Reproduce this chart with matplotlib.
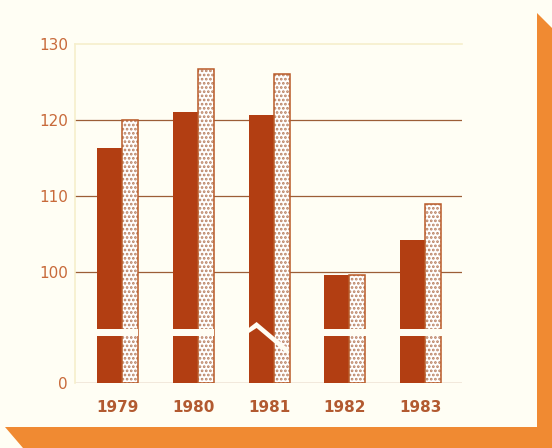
import numpy as np
import matplotlib
matplotlib.use("Agg")
import matplotlib.pyplot as plt
from matplotlib.patches import Polygon

### Donnees
years = ['1979', '1980', '1981', '1982', '1983']
dark_vals = [116.3, 121.0, 120.7, 99.6, 104.2]
light_vals = [120.0, 126.7, 126.0, 99.6, 108.9]
yticks = [0, 100, 110, 120, 130]
grid_vals = [0, 100, 110, 120]

### Couleurs
BG = '#fffef4'
SHADOW = '#f08a32'
DARK = '#b23e12'
DOTS = '#b98061'
OUTLINE = '#b95a28'
GRID = '#9c5e36'
LABEL = '#c86a3a'
YEARLAB = '#b25a30'

plt.rcParams['font.family'] = ['DejaVu Sans']
plt.rcParams['hatch.linewidth'] = 1.3

### Echelle coupee : hauteur en pixels au-dessus de 0
PX = 7.6            # pixels par unite au-dessus de la coupure
H100 = 111.0        # hauteur de 100
HB = 50.0           # hauteur de la coupure
VB = 100 - (H100 - HB) / PX


def fwd(v):
    v = np.asarray(v, dtype=float)
    return np.where(v < VB, v * HB / VB, HB + (v - VB) * PX)


def inv(h):
    h = np.asarray(h, dtype=float)
    return np.where(h < HB, h * VB / HB, VB + (h - HB) / PX)


W, H = 552, 448
fig = plt.figure(figsize=(W / 100, H / 100), dpi=100, facecolor=BG)

# ombre orange
pts = [(537, 13), (552, 28), (552, 448), (23, 448), (5, 427), (537, 427)]
fig.patches.append(Polygon([(x / W, 1 - y / H) for x, y in pts],
                           closed=True, transform=fig.transFigure,
                           facecolor=SHADOW, edgecolor='none', zorder=0))

ax_h = float(fwd(130))
ax = fig.add_axes([75 / W, 65 / H, 387 / W, ax_h / H])
ax.set_facecolor(BG)
ax.set_yscale('function', functions=(fwd, inv))
ax.set_ylim(0, 130)
ax.set_xlim(-0.62, 4.485)

x = np.arange(len(years))
DW, LW = 0.33, 0.21
PXX = 75.8  # pixels par groupe

for g in grid_vals:
    ax.axhline(g, color=GRID, lw=0.9, zorder=1)

ax.bar(x, dark_vals, width=-DW, align='edge', color=DARK, lw=0, zorder=2)
ax.bar(x, light_vals, width=LW, align='edge', color='white', edgecolor=DOTS,
       hatch='....', lw=0, zorder=2)
ax.bar(x, light_vals, width=LW, align='edge', fill=False, edgecolor=OUTLINE,
       lw=1.1, zorder=2.5)

# coupures blanches
for i in x:
    x0, x1 = i - DW - 0.005, i + LW + 0.005
    if years[i] == '1981':
        dx = np.array([-0.5, 8, 40, 40, 8, -0.5]) / PXX
        hh = np.array([54.5, 61, 34, 28, 55, 49.5])
        ax.fill(i - DW + dx, inv(hh), color=BG, lw=0, zorder=3)
    else:
        ax.fill_between([x0, x1], inv(47), inv(54), color=BG, lw=0, zorder=3)

for s in ['right', 'bottom']:
    ax.spines[s].set_visible(False)
for s in ['left', 'top']:
    ax.spines[s].set_color('#f6efcc')
    ax.spines[s].set_linewidth(1.2)

ax.set_yticks(yticks)
ax.set_yticklabels([str(t) for t in yticks])
ax.set_xticks(x - 0.06)
ax.set_xticklabels(years, fontweight='bold')
ax.tick_params(axis='y', length=0, pad=5, labelsize=11, labelcolor=LABEL)
ax.tick_params(axis='x', length=0, pad=12, labelsize=11, labelcolor=YEARLAB)
ax.minorticks_off()

fig.savefig('out.png', dpi=100, facecolor=BG)
